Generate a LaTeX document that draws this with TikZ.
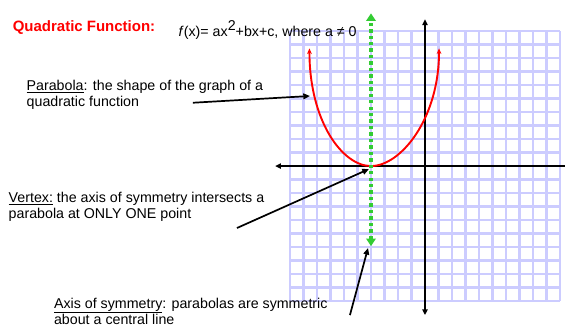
\documentclass[tikz,border=0pt]{standalone}
\usepackage{fontspec}
\setmainfont{Liberation Sans}
\usetikzlibrary{arrows.meta}
\definecolor{GridLav}{HTML}{CCCCFF}
\definecolor{SymGreen}{HTML}{33CC33}

\begin{document}
\begin{tikzpicture}[x=0.5cm,y=0.5cm,line width=1.6pt,
  lbl/.style={anchor=base west,align=left,inner sep=0pt,font=\fontsize{15}{16.8}\selectfont},
  pointer/.style={line width=1.8pt,-{Triangle[length=7pt,width=6pt]}},
  axis/.style={line width=2.2pt,{Triangle[length=6pt,width=5.5pt]}-{Triangle[length=6pt,width=5.5pt]}}]
\useasboundingbox (-31.48,-11.93) rectangle (10.37,12.30);
\fill[white] (-31.48,-11.93) rectangle (10.37,12.30);
\draw[GridLav,line width=2.4pt,step=1] (-10,-10) grid (10,10);
% axes
\coordinate (xl) at (-11.1,0);
\coordinate (xr) at (10.8,0);
\coordinate (yt) at (0,10.87);
\coordinate (yb) at (0,-11.04);
\draw[axis] (xl) -- (xr);
\draw[axis] (yb) -- (yt);
% parabola
\coordinate (V) at (-4,0);
\draw[red,line width=2pt,{Stealth[length=6pt,width=5pt]}-{Stealth[length=6pt,width=5pt]}]
  (-8.56,8.72) .. controls (-8.56,3.3) and (-6.1,0) .. (V)
  .. controls (-1.8,0) and (1.04,3.5) .. (1.04,8.72);
% axis of symmetry
\coordinate (gt) at (-4,11.31);
\coordinate (gb) at (-4,-5.93);
\draw[SymGreen,line width=3.6pt,dash pattern=on 3.6pt off 3.2pt,
  {Triangle[length=8pt,width=10pt]}-{Triangle[length=8pt,width=10pt]}] (gb) -- (gt);
% texts
\node[lbl,font=\fontsize{15.8}{18}\selectfont\bfseries,text=red] (title) at (-30.59,9.93) {Quadratic Function:};
\node[lbl] (formula) at (-18.30,9.59) {\textit{f}(x)= ax\raisebox{0.4em}{2}+bx+c, where a ≠ 0};
\node[lbl] (parab) at (-29.56,4.39) {\underline{Parabola}: the shape of the graph of a\\quadratic function};
\node[lbl] (vertex) at (-30.89,-3.90) {\underline{Vertex:} the axis of symmetry intersects a\\parabola at ONLY ONE point};
\node[lbl] (symm) at (-27.53,-11.70) {\underline{Axis of symmetry}: parabolas are symmetric\\about a central line};
% pointers
\coordinate (pa) at (-17.19,4.69);
\coordinate (pb) at (-8.52,5.19);
\coordinate (va) at (-13.93,-4.59);
\coordinate (vb) at (-4.15,-0.22);
\coordinate (sa) at (-5.56,-11.04);
\coordinate (sb) at (-4.22,-6.07);
\draw[pointer] (pa) -- (pb);
\draw[pointer] (va) -- (vb);
\draw[pointer] (sa) -- (sb);
\end{tikzpicture}
\end{document}
